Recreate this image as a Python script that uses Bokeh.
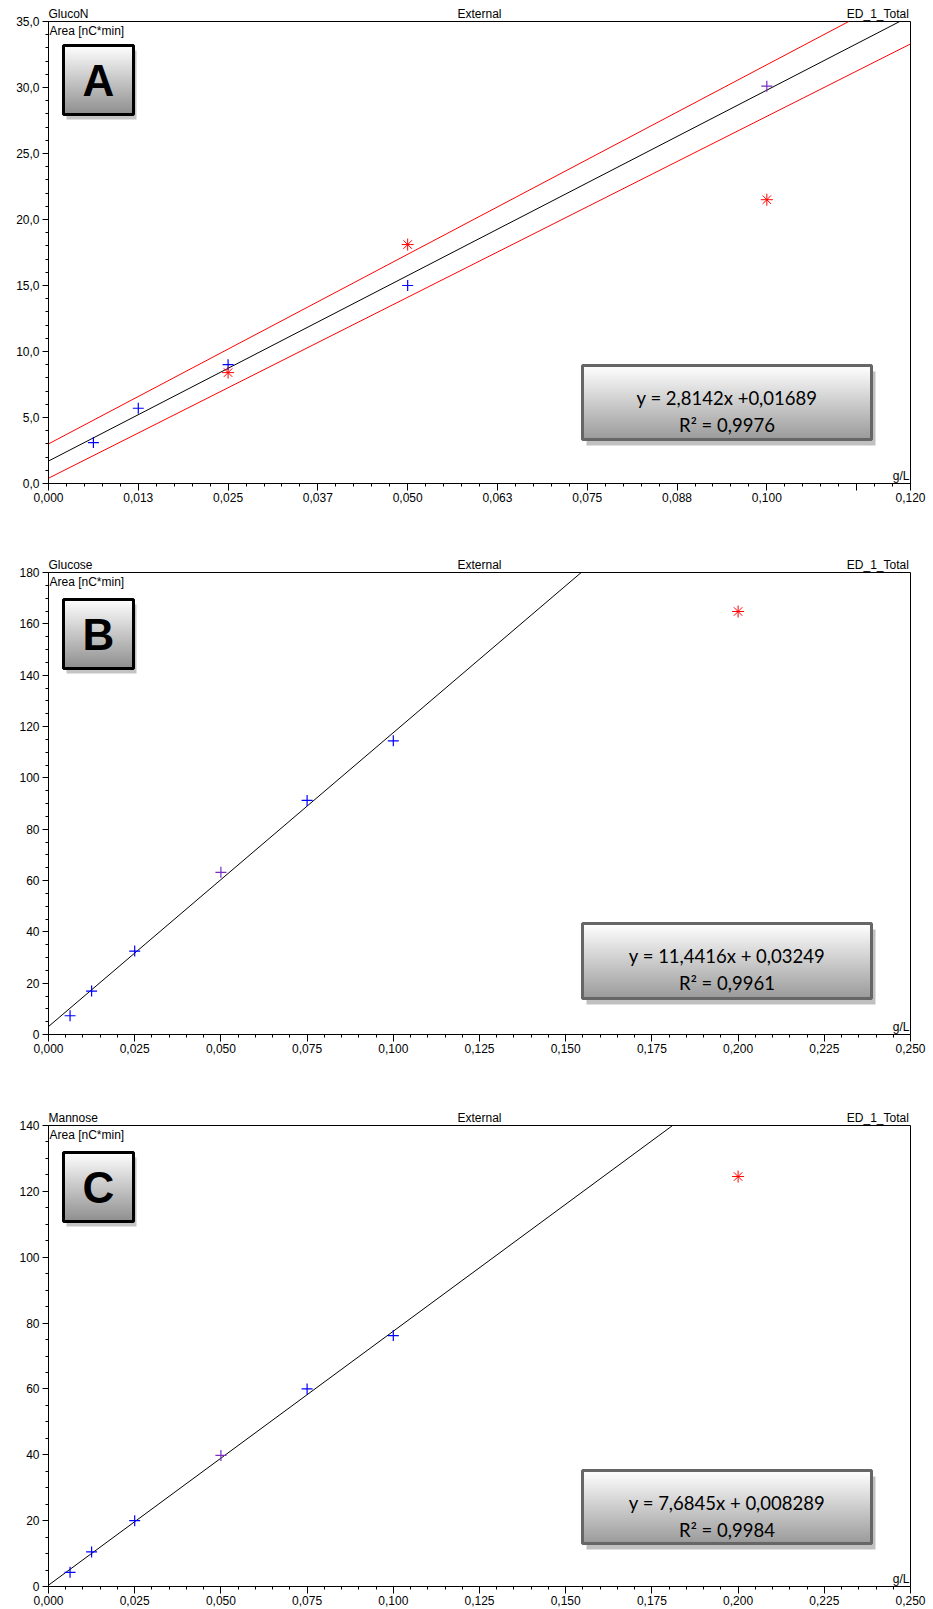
import numpy as np
from bokeh.plotting import figure
from bokeh.layouts import column
from bokeh.models import FixedTicker, CustomJSTickFormatter, Label, Range1d, LinearAxis
from bokeh.embed import file_html
from bokeh.resources import INLINE

# ---------------- data ----------------
# Panel A
a_titles = ["GlucoN", "External", "ED_1_Total"]
a_letter = "A"
a_std_x = [0.00625, 0.0125, 0.025, 0.05, 0.1]
a_std_y = [3.1, 5.7, 9.0, 15.0, 30.1]
a_std_purple = [False, False, False, False, True]
a_out_x = [0.025, 0.05, 0.1]
a_out_y = [8.4, 18.1, 21.5]
a_fit_x = [0.0, 0.1185]
a_fit_y = [1.7, 35.0]
a_upper_x = [0.0, 0.1114]
a_upper_y = [3.0, 35.0]
a_lower_x = [0.0, 0.12]
a_lower_y = [0.4, 33.3]
a_x_ticks = [0.0, 0.0125, 0.025, 0.0375, 0.05, 0.0625, 0.075, 0.0875, 0.1, 0.1125, 0.12]
a_x_labels = ["0,000", "0,013", "0,025", "0,037", "0,050", "0,063", "0,075", "0,088", "0,100", "", "0,120"]
a_y_ticks = [0, 5, 10, 15, 20, 25, 30, 35]
a_y_labels = ["0,0", "5,0", "10,0", "15,0", "20,0", "25,0", "30,0", "35,0"]
a_eq = "y = 2,8142x +0,01689"
a_r2 = "R² = 0,9976"

# Panel B
b_titles = ["Glucose", "External", "ED_1_Total"]
b_letter = "B"
b_std_x = [0.00625, 0.0125, 0.025, 0.05, 0.075, 0.1]
b_std_y = [7.3, 16.9, 32.5, 63.2, 91.2, 114.4]
b_std_purple = [False, False, False, True, False, False]
b_out_x = [0.2]
b_out_y = [164.8]
b_fit_x = [0.0, 0.1545]
b_fit_y = [3.1, 180.0]
b_x_ticks = [0.0, 0.025, 0.05, 0.075, 0.1, 0.125, 0.15, 0.175, 0.2, 0.225, 0.25]
b_x_labels = ["0,000", "0,025", "0,050", "0,075", "0,100", "0,125", "0,150", "0,175", "0,200", "0,225", "0,250"]
b_y_ticks = [0, 20, 40, 60, 80, 100, 120, 140, 160, 180]
b_y_labels = ["0", "20", "40", "60", "80", "100", "120", "140", "160", "180"]
b_eq = "y = 11,4416x + 0,03249"
b_r2 = "R² = 0,9961"

# Panel C
c_titles = ["Mannose", "External", "ED_1_Total"]
c_letter = "C"
c_std_x = [0.00625, 0.0125, 0.025, 0.05, 0.075, 0.1]
c_std_y = [4.3, 10.5, 20.0, 39.8, 60.0, 76.2]
c_std_purple = [False, False, False, True, False, False]
c_out_x = [0.2]
c_out_y = [124.5]
c_fit_x = [0.0, 0.181]
c_fit_y = [0.4, 140.0]
c_x_ticks = b_x_ticks
c_x_labels = b_x_labels
c_y_ticks = [0, 20, 40, 60, 80, 100, 120, 140]
c_y_labels = ["0", "20", "40", "60", "80", "100", "120", "140"]
c_eq = "y = 7,6845x + 0,008289"
c_r2 = "R² = 0,9984"

# ---------------- style ----------------
W = 933
FW = 862  # frame width
FONT = "Liberation Sans"
BLUE = "#0000FF"
PURPLE = "#7A2DC0"
RED = "#FF0000"
# approximate Liberation Sans advance widths (em) for centring header texts
ADV = {"G": .778, "l": .222, "u": .556, "c": .5, "o": .556, "N": .722, "s": .5,
       "e": .556, "M": .833, "a": .556, "n": .556, "E": .667, "D": .722, "_": .556,
       "1": .556, "T": .611, "t": .278, "x": .5, "r": .333}


def text_w(s, size=12):
    return sum(ADV.get(ch, 0.556) for ch in s) * size


def interp_colors(c0, c1, n):
    a = np.array([int(c0[i:i + 2], 16) for i in (1, 3, 5)], float)
    b = np.array([int(c1[i:i + 2], 16) for i in (1, 3, 5)], float)
    out = []
    for k in range(n):
        t = (k + 0.5) / n
        c = a + (b - a) * t
        out.append("#%02x%02x%02x" % tuple(int(round(v)) for v in c))
    return out


JS = ("const i = tvals.findIndex(t => Math.abs(t - tick) < 1e-9);"
      "return i >= 0 ? tlabels[i] : '';")


def make_panel(height, top, fh, xmax, ymax, x_ticks, x_labels, x_minor,
               y_ticks, y_labels, y_minor, titles, letter, letter_top,
               eq_top, eq_h, eq, r2, std_x, std_y, std_purple, out_x, out_y,
               fit_x, fit_y, bands=None):
    bottom = height - top - fh
    p = figure(width=W, height=height, output_backend="svg", toolbar_location=None,
               x_range=Range1d(0, xmax), y_range=Range1d(0, ymax),
               min_border_left=48, min_border_right=W - 48 - FW,
               min_border_top=top, min_border_bottom=bottom)
    p.xgrid.visible = False
    p.ygrid.visible = False
    p.outline_line_color = "black"
    p.outline_line_width = 1
    p.background_fill_color = "white"
    p.border_fill_color = "white"

    def dx(px):
        return xmax * px / FW

    def dy(py):
        return ymax * (1 - py / fh)

    # axes
    p.xaxis.ticker = FixedTicker(ticks=x_ticks, minor_ticks=x_minor)
    p.yaxis.ticker = FixedTicker(ticks=y_ticks, minor_ticks=y_minor)
    p.xaxis.formatter = CustomJSTickFormatter(args=dict(tvals=x_ticks, tlabels=x_labels), code=JS)
    p.yaxis.formatter = CustomJSTickFormatter(args=dict(tvals=y_ticks, tlabels=y_labels), code=JS)
    for ax in (p.xaxis, p.yaxis):
        ax.axis_line_color = "black"
        ax.major_tick_line_color = "black"
        ax.minor_tick_line_color = "black"
        ax.major_tick_in = 0
        ax.minor_tick_in = 0
        ax.minor_tick_out = 3
        ax.major_label_text_font = FONT
        ax.major_label_text_font_size = "12px"
        ax.major_label_text_color = "black"
    p.xaxis.major_tick_out = 7
    p.xaxis.major_label_standoff = 2
    p.yaxis.major_tick_out = 6
    p.yaxis.major_label_standoff = 3

    # header texts above the frame (as an unlined top axis)
    hx = [dx(text_w(titles[0]) / 2), xmax / 2, dx(FW - 1 - text_w(titles[2]) / 2)]
    top_ax = LinearAxis(ticker=FixedTicker(ticks=hx, minor_ticks=[]),
                        formatter=CustomJSTickFormatter(args=dict(tvals=hx, tlabels=titles), code=JS),
                        axis_line_color=None, major_tick_line_color=None,
                        minor_tick_line_color=None, major_tick_in=0, major_tick_out=0,
                        minor_tick_in=0, minor_tick_out=0, major_label_standoff=1,
                        major_label_text_font=FONT, major_label_text_font_size="12px",
                        major_label_text_color="black")
    p.add_layout(top_ax, "above")

    def gbox(left, tp, w, h, c_top, c_bot, line_color, shadow_color, sdx, sdy):
        p.quad(left=[dx(left + sdx)], right=[dx(left + w + sdx)],
               top=[dy(tp + sdy)], bottom=[dy(tp + h + sdy)],
               fill_color=shadow_color, line_color=None)
        n = int(h)
        cols = interp_colors(c_top, c_bot, n)
        tops = [dy(tp + k * h / n) for k in range(n)]
        bots = [dy(tp + (k + 1) * h / n + 0.4) for k in range(n)]
        p.quad(left=[dx(left)] * n, right=[dx(left + w)] * n, top=tops, bottom=bots,
               fill_color=cols, line_color=None)
        p.quad(left=[dx(left)], right=[dx(left + w)], top=[dy(tp)], bottom=[dy(tp + h)],
               fill_color=None, line_color=line_color, line_width=3)

    # letter box
    gbox(15, letter_top, 70, 69, "#ffffff", "#8e8e8e", "black", "#c4c4c4", 3, 5)
    p.add_layout(Label(x=dx(50), y=dy(letter_top + 35), text=letter,
                       text_font=FONT, text_font_style="bold", text_font_size="44px",
                       text_align="center", text_baseline="middle", text_color="black"))

    # equation box
    gbox(534, eq_top, 289, eq_h, "#ffffff", "#9a9a9a", "#666666", "#c0c0c0", 4, 6)
    p.add_layout(Label(x=dx(534 + 144.5), y=dy(eq_top + 32), text=eq,
                       text_font="Lato", text_font_size="18.5px",
                       text_align="center", text_baseline="alphabetic", text_color="black"))
    p.add_layout(Label(x=dx(534 + 144.5), y=dy(eq_top + 59), text=r2,
                       text_font="Lato", text_font_size="18.5px",
                       text_align="center", text_baseline="alphabetic", text_color="black"))

    # lines
    if bands is not None:
        for bx, by in bands:
            p.line(bx, by, line_color=RED, line_width=1)
    p.line(fit_x, fit_y, line_color="black", line_width=1)

    # points
    cols = [PURPLE if f else BLUE for f in std_purple]
    p.scatter(std_x, std_y, marker="cross", size=11, line_color=cols, line_width=1.2)
    p.scatter(out_x, out_y, marker="asterisk", size=12, line_color=RED, line_width=1)

    # texts inside frame
    p.add_layout(Label(x=0, y=ymax, text="Area  [nC*min]", text_font=FONT, text_font_size="12px",
                       text_align="left", text_baseline="top", x_offset=1, y_offset=-2,
                       text_color="black"))
    p.add_layout(Label(x=xmax, y=0, text="g/L", text_font=FONT, text_font_size="12px",
                       text_align="right", text_baseline="bottom", x_offset=-1, y_offset=1,
                       text_color="black"))
    return p


pa = make_panel(540, 21, 462, 0.12, 35, a_x_ticks, a_x_labels,
                [i * 0.0025 for i in range(49)],
                a_y_ticks, a_y_labels, list(range(36)),
                a_titles, a_letter, 24, 344, 74, a_eq, a_r2,
                a_std_x, a_std_y, a_std_purple, a_out_x, a_out_y, a_fit_x, a_fit_y,
                bands=[(a_upper_x, a_upper_y), (a_lower_x, a_lower_y)])

pb = make_panel(550, 32, 462, 0.25, 180, b_x_ticks, b_x_labels,
                [i * 0.005 for i in range(51)],
                b_y_ticks, b_y_labels, [i * 5 for i in range(37)],
                b_titles, b_letter, 27, 351, 75, b_eq, b_r2,
                b_std_x, b_std_y, b_std_purple, b_out_x, b_out_y, b_fit_x, b_fit_y)

pc = make_panel(519, 35, 461, 0.25, 140, c_x_ticks, c_x_labels,
                [i * 0.005 for i in range(51)],
                c_y_ticks, c_y_labels, [i * 5 for i in range(29)],
                c_titles, c_letter, 27, 345, 73, c_eq, c_r2,
                c_std_x, c_std_y, c_std_purple, c_out_x, c_out_y, c_fit_x, c_fit_y)

layout = column(pa, pb, pc, spacing=0)
open("out.html", "w").write(file_html(layout, INLINE))
